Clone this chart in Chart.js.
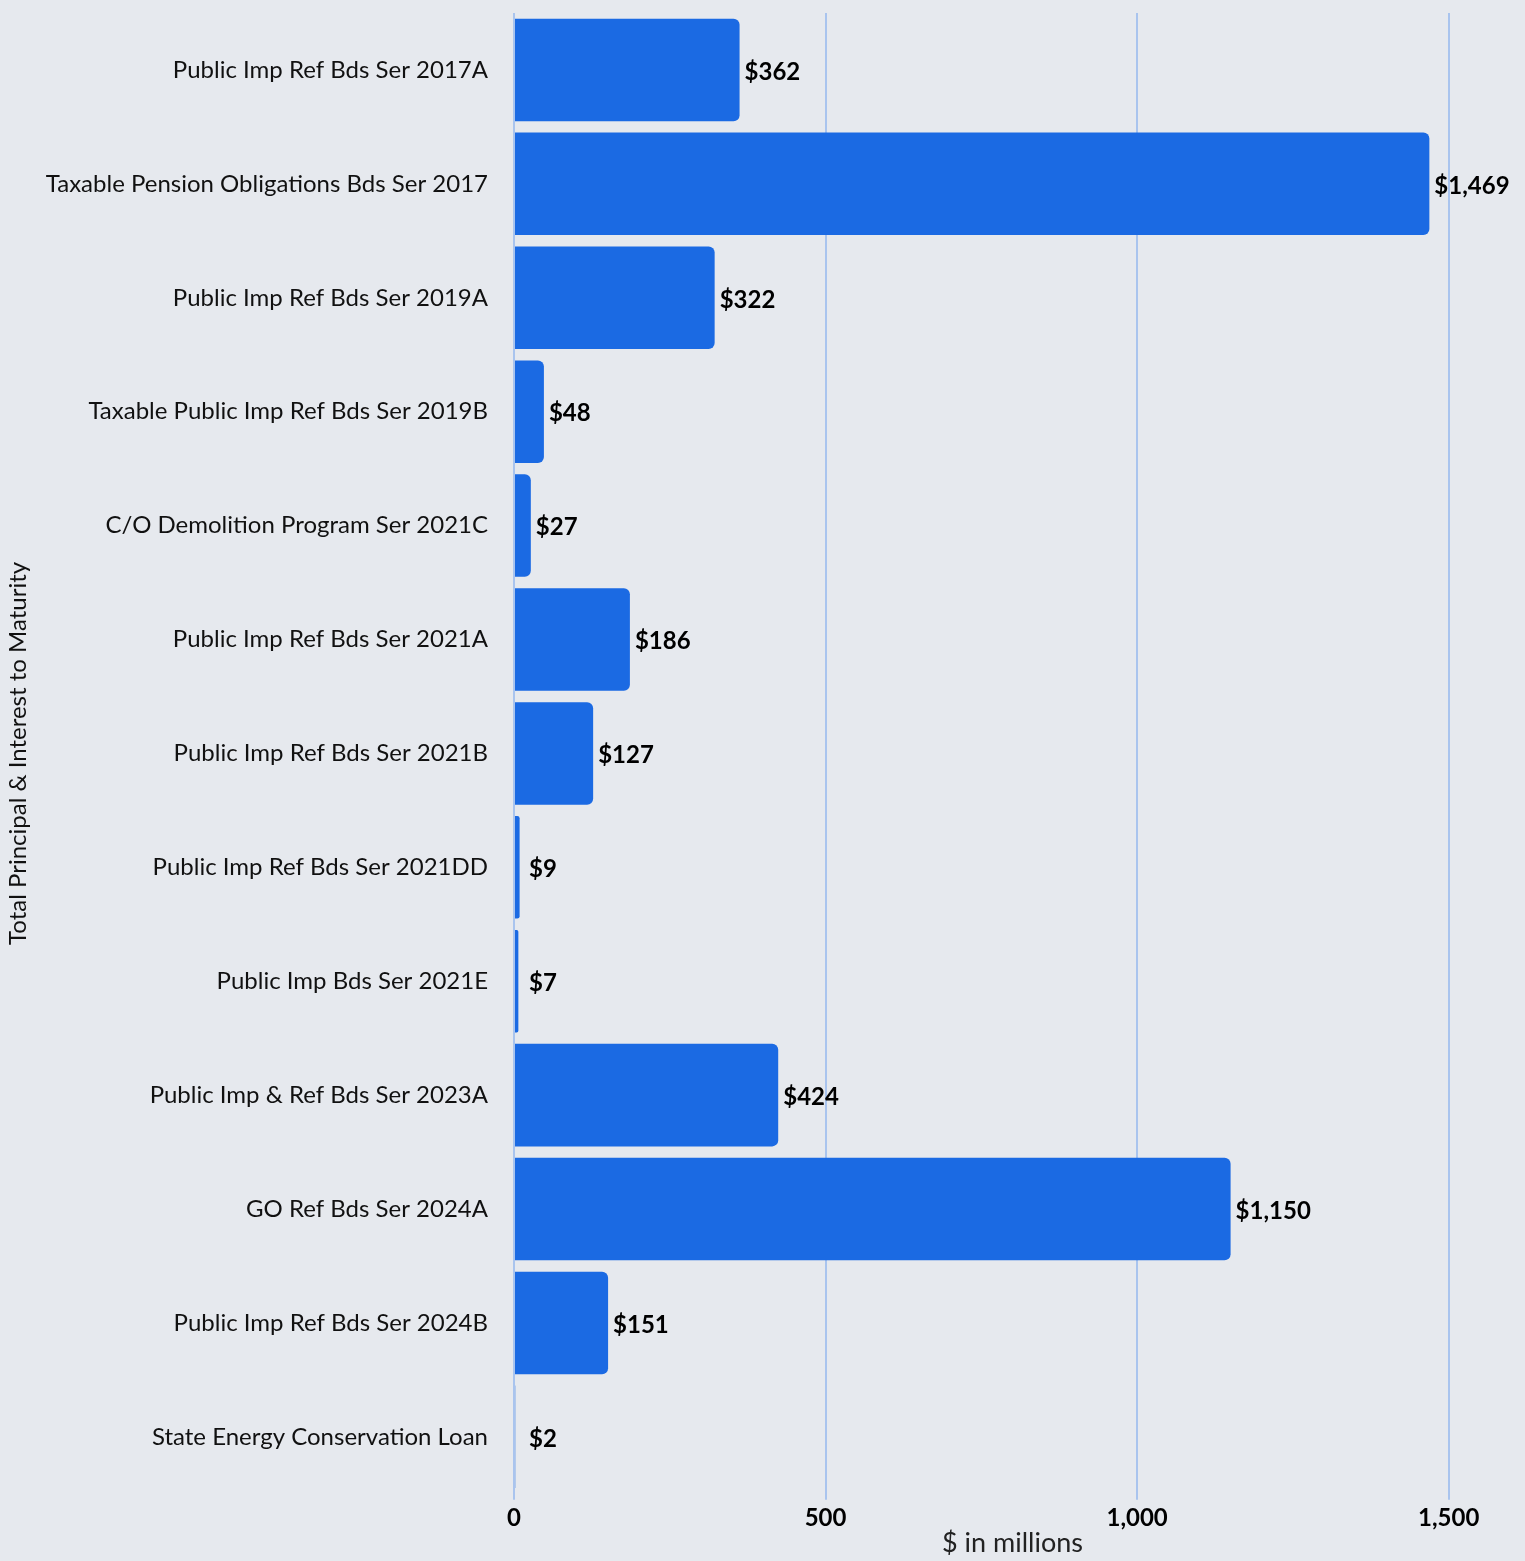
<!DOCTYPE html>
<html>
<head>
<meta charset="utf-8">
<script src="https://cdn.jsdelivr.net/npm/chart.js@4"></script>
<style>
  html, body { margin: 0; padding: 0; background: #e6e9ee; }
  #wrap { width: 1525px; height: 1561px; }
</style>
</head>
<body>
<div id="wrap"><canvas id="debtChart"></canvas></div>
<script>
const bondNames = [
    'Public Imp Ref Bds Ser 2017A',
    'Taxable Pension Obligations Bds Ser 2017',
    'Public Imp Ref Bds Ser 2019A',
    'Taxable Public Imp Ref Bds Ser 2019B',
    'C/O Demolition Program Ser 2021C',
    'Public Imp Ref Bds Ser 2021A',
    'Public Imp Ref Bds Ser 2021B',
    'Public Imp Ref Bds Ser 2021DD',
    'Public Imp Bds Ser 2021E',
    'Public Imp & Ref Bds Ser 2023A',
    'GO Ref Bds Ser 2024A',
    'Public Imp Ref Bds Ser 2024B',
    'State Energy Conservation Loan'
];
const totalToMaturity = [362, 1469, 322, 48, 27, 186, 127, 9, 7, 424, 1150, 151, 2];
const xTicks = [0, 500, 1000, 1500];

const fontFamily = 'Lato, "Noto Sans", sans-serif';

// draws the "$362" style labels at the end of every bar
const valueLabels = {
    id: 'valueLabels',
    afterDatasetsDraw(chart) {
        const ctx = chart.ctx;
        const meta = chart.getDatasetMeta(0);
        ctx.save();
        ctx.font = 'bold 24px ' + fontFamily;
        ctx.fillStyle = '#000000';
        ctx.textBaseline = 'middle';
        ctx.textAlign = 'left';
        meta.data.forEach(function (bar, i) {
            const v = chart.data.datasets[0].data[i];
            const x = Math.max(bar.x + 5, chart.scales.x.getPixelForValue(0) + 15);
            ctx.fillText('$' + v.toLocaleString('en-US'), x, bar.y + 2);
        });
        ctx.restore();
    }
};

new Chart(document.getElementById('debtChart'), {
    type: 'bar',
    data: {
        labels: bondNames,
        datasets: [{
            data: totalToMaturity,
            backgroundColor: '#1b6ae3',
            borderRadius: { topRight: 6, bottomRight: 6 },
            borderSkipped: false,
            categoryPercentage: 0.9,
            barPercentage: 1.0
        }]
    },
    options: {
        indexAxis: 'y',
        responsive: true,
        maintainAspectRatio: false,
        animation: false,
        layout: { padding: { top: 13, right: 14, left: 4, bottom: 2 } },
        plugins: {
            legend: { display: false },
            tooltip: { enabled: false }
        },
        scales: {
            x: {
                min: 0,
                max: 1600,
                afterBuildTicks(axis) {
                    axis.ticks = xTicks.map(v => ({ value: v }));
                },
                grid: {
                    color: '#a9c4ee',
                    lineWidth: 2,
                    drawTicks: true,
                    tickLength: 6
                },
                border: { display: false },
                ticks: {
                    color: '#000000',
                    padding: 4,
                    font: { family: fontFamily, size: 24, weight: 'bold' },
                    callback: v => v.toLocaleString('en-US')
                },
                title: {
                    display: true,
                    text: '$ in millions',
                    color: '#222222',
                    padding: { top: -10, bottom: 0 },
                    font: { family: fontFamily, size: 27 }
                }
            },
            y: {
                afterFit(scale) {
                    scale.width = 510;
                    // drop the extra room kept above/below for the end labels
                    scale.paddingTop = 0;
                    scale.paddingBottom = 0;
                },
                grid: { display: false },
                border: { display: false },
                ticks: {
                    color: '#111111',
                    padding: 18,
                    font: { family: fontFamily, size: 24 }
                },
                title: {
                    display: true,
                    text: 'Total Principal & Interest to Maturity',
                    color: '#111111',
                    padding: { top: 0, bottom: 4 },
                    font: { family: fontFamily, size: 24 }
                }
            }
        }
    },
    plugins: [valueLabels]
});
</script>
</body>
</html>
